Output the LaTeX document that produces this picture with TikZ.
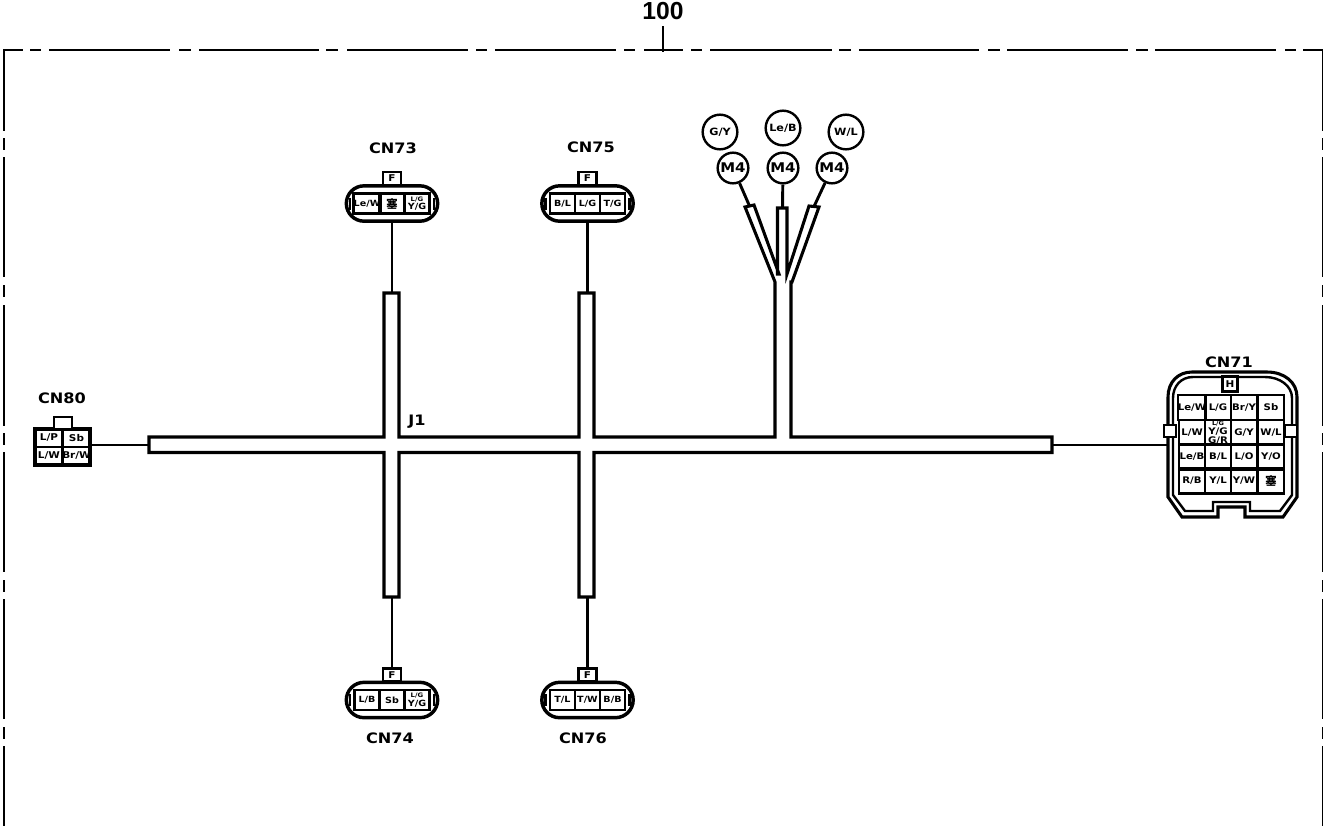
\documentclass[tikz,border=0pt]{standalone}
\usepackage{fontspec}
\usetikzlibrary{shapes.misc}
\setmainfont{Liberation Sans}
\newfontfamily\cadfont[FakeStretch=1.12]{DejaVu Sans}
\newfontfamily\cjkfont{Noto Sans CJK SC}
\newcommand{\fsz}[1]{\fontsize{#1}{#1}\selectfont}
\newcommand{\seal}{{\cjkfont\bfseries\fsz{8.5pt}塞}}
\tikzset{
  frameline/.style={line width=2.1pt},
  harness/.style={line width=2.3pt,line join=miter},
  wire/.style={line width=2.2pt},
  thinwire/.style={line width=1.5pt},
  body/.style={line width=2.3pt},
  title/.style={font=\cadfont\bfseries\fsz{10.8pt},inner sep=0pt},
  cell/.style={draw,line width=1.9pt,inner sep=0pt,minimum width=18.75pt,minimum height=15pt,font=\cadfont\bfseries\fsz{6.4pt},align=center},
  gridcell/.style={draw,line width=2pt,inner sep=0pt,minimum width=19.5pt,minimum height=18.75pt,font=\cadfont\bfseries\fsz{6.8pt},align=center},
  smallcell/.style={draw,line width=2pt,inner sep=0pt,minimum width=20.5pt,minimum height=13.5pt,font=\cadfont\bfseries\fsz{7pt},align=center},
  tabbox/.style={draw,fill=white,line width=2pt,inner sep=0pt,minimum width=13.5pt,minimum height=10pt,font=\cadfont\bfseries\fsz{7pt}},
  pill/.style={draw,rounded rectangle,line width=2.6pt,inner sep=0pt,minimum width=68.5pt,minimum height=26.5pt},
  termbig/.style={draw,circle,line width=1.8pt,inner sep=0pt,minimum size=26pt,font=\cadfont\bfseries\fsz{7.5pt}},
  termsmall/.style={draw,circle,line width=1.8pt,inner sep=0pt,minimum size=23pt,font=\cadfont\bfseries\fsz{10pt}},
}
\newcommand{\pillconn}[7]{% name cx cy a b c tabdirection
  \node[pill] (#1) at (#2,#3) {};
  \node[cell] (#1a) at (#2-25,#3) {#4};
  \node[cell] (#1b) at (#2,#3) {#5};
  \node[cell,draw=none] (#1c) at (#2+25,#3) {#6};
  \draw[line width=1.9pt] (#2+12.5,#3-10) rectangle (#2+37.5,#3+10);
  \draw[line width=1.6pt] (#2-42,#3-6) -- (#2-42,#3+6) (#2+42,#3-6) -- (#2+42,#3+6);
  \node[tabbox] (#1t) at (#2,#3+#7) {F};
}
\begin{document}
\begin{tikzpicture}[x=0.75pt,y=-0.75pt]
\useasboundingbox (0,0) rectangle (1323,826);
\fill[white] (0,0) rectangle (1323,826);
% frame
\draw[frameline] (4,62) -- (4,50) -- (23,50);
\foreach \a/\b in {30/41,49/170,179/191,199/319,326/338,347/468,476/487,495/616,624/635,644/683,691/702,710/832,839/851,859/979,988/1000,1007/1128,1136/1148,1155/1276,1285/1296,1303/1323}
  \draw[frameline] (\a,50) -- (\b,50);
\foreach \a/\b in {50/131,138/150,157/277,285/297,305/426,433/445,452/572,580/592,599/719,727/739,746/826}{
  \draw[frameline] (4,\a) -- (4,\b);
  \draw[frameline] (1323,\a) -- (1323,\b);
}
\node[font=\bfseries\fsz{18.5pt},inner sep=0pt] (ref) at (663,11) {100};
\coordinate (reftick) at (663,52);
\draw[line width=2pt] (663,26) -- (reftick);

% harness outline
\draw[harness] (149,437) -- (384,437) -- (384,293) -- (399,293) -- (399,437) -- (579,437) -- (579,293) -- (594,293) -- (594,437)
  -- (775,437) -- (775,282) -- (745,207) -- (754,205) -- (779,274) -- (777.5,274) -- (777.5,208) -- (787,208) -- (787,274)
  -- (809,206) -- (819,207) -- (792,282) -- (791,282) -- (791,437) -- (1052,437) -- (1052,452.5) -- (594,452.5)
  -- (594,597) -- (579,597) -- (579,452.5) -- (399,452.5) -- (399,597) -- (384,597) -- (384,452.5) -- (149,452.5) -- cycle;
\node[title] (j1) at (417,422) {J1};

% branch ends
\coordinate (b73) at (391.5,293);
\coordinate (b74) at (391.5,597);
\coordinate (b75) at (586.5,293);
\coordinate (b76) at (586.5,597);
\coordinate (bw) at (149,444.5);
\coordinate (be) at (1052,444.5);
\coordinate (ylft) at (749.5,206);
\coordinate (ymid) at (782.5,208);
\coordinate (yrgt) at (814,206.5);

% pill connectors
\pillconn{cn73}{392}{203.5}{Le/W}{\seal}{\fsz{4.6pt}L/G\\Y/G}{-25}
\pillconn{cn75}{587.5}{203.5}{B/L}{L/G}{T/G}{-25}
\pillconn{cn74}{392}{700}{L/B}{Sb}{\fsz{4.6pt}L/G\\Y/G}{-25}
\pillconn{cn76}{587.5}{700}{T/L}{T/W}{B/B}{-25}
\node[title] (t73) at (393,148) {CN73};
\node[title] (t75) at (591,147) {CN75};
\node[title] (t74) at (390,738) {CN74};
\node[title] (t76) at (583,738) {CN76};
\draw[wire] (cn73.south) -- (cn73.south |- b73);
\draw[wire] (cn75.south) -- (cn75.south |- b75);
\draw[wire] (cn74t.north) -- (cn74t.north |- b74);
\draw[wire] (cn76t.north) -- (cn76t.north |- b76);

% ring terminals
\node[termbig] (r1) at (720,132) {G/Y};
\node[termbig] (r2) at (783,128) {Le/B};
\node[termbig] (r3) at (846,132) {W/L};
\node[termsmall] (m1) at (733,168) {M4};
\node[termsmall] (m2) at (783,168) {M4};
\node[termsmall] (m3) at (832,168) {M4};
\draw[wire] (m1) -- (ylft);
\draw[wire] (m2) -- (ymid);
\draw[wire] (m3) -- (yrgt);

% CN80
\node[title] (t80) at (62,398) {CN80};
\node[smallcell] (c80a) at (49,438) {L/P};
\node[smallcell] (c80b) at (76.5,438) {Sb};
\node[smallcell] (c80c) at (49,456) {L/W};
\node[smallcell] (c80d) at (76.5,456) {Br/W};
\draw[body] (35,429) rectangle (90,465);
\node[tabbox,minimum height=9pt] (c80t) at (63,423) {};
\coordinate (c80w) at (90,444.5);
\draw[thinwire] (c80w) -- (bw);

% CN71
\node[title] (t71) at (1229,362) {CN71};
\draw[body] (1168,397) .. controls (1168,382) and (1178,372) .. (1192,372) -- (1267,372)
  .. controls (1284,372) and (1297,382) .. (1297,397) -- (1297,497) -- (1283,517) -- (1245,517) -- (1245,507) -- (1218,507) -- (1218,517) -- (1182,517) -- (1168,497) -- cycle;
\draw[line width=1.8pt] (1173,398) .. controls (1173,386) and (1181,377) .. (1193,377) -- (1265,377)
  .. controls (1280,377) and (1292,386) .. (1292,398) -- (1292,495) -- (1280,511) -- (1250,511) -- (1250,502) -- (1213,502) -- (1213,511) -- (1185,511) -- (1173,495) -- cycle;
\draw[fill=white,line width=1.8pt] (1164,425) rectangle (1176,437);
\draw[fill=white,line width=1.8pt] (1285,425) rectangle (1297,437);
\node[tabbox,minimum width=11pt,minimum height=11pt] (c71t) at (1230,384) {H};
\node[gridcell] (g11) at (1192,407.5) {Le/W};
\node[gridcell] (g12) at (1218,407.5) {L/G};
\node[gridcell] (g13) at (1244,407.5) {Br/Y};
\node[gridcell] (g14) at (1271,407.5) {Sb};
\node[gridcell] (g21) at (1192,432.5) {L/W};
\node[gridcell] (g22) at (1218,432.5) {\fsz{4.4pt}L/G\\Y/G\\G/R};
\node[gridcell] (g23) at (1244,432.5) {G/Y};
\node[gridcell] (g24) at (1271,432.5) {W/L};
\node[gridcell] (g31) at (1192,457) {Le/B};
\node[gridcell] (g32) at (1218,457) {B/L};
\node[gridcell] (g33) at (1244,457) {L/O};
\node[gridcell] (g34) at (1271,457) {Y/O};
\node[gridcell] (g41) at (1192,481) {R/B};
\node[gridcell] (g42) at (1218,481) {Y/L};
\node[gridcell] (g43) at (1244,481) {Y/W};
\node[gridcell] (g44) at (1271,481) {\seal};
\coordinate (c71w) at (1168,444.5);
\draw[thinwire] (be) -- (c71w);
\end{tikzpicture}
\end{document}
